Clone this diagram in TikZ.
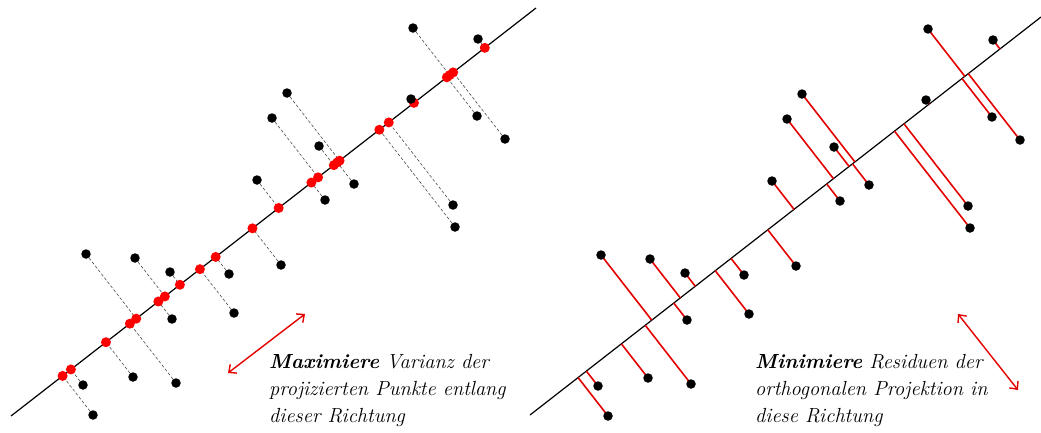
\documentclass[tikz,border=0pt]{standalone}
\usepackage{fontspec}
\usetikzlibrary{calc,arrows.meta}

\tikzset{
    datapt/.style={circle,fill=black,inner sep=0pt,minimum size=9.5pt},
    projpt/.style={circle,fill=red,inner sep=0pt,minimum size=10pt},
    projline/.style={gray!60!black,densely dashed,line width=0.6pt},
    residline/.style={red!90!black,line width=1.6pt},
    dirarrow/.style={red!90!black,line width=1.4pt,{Straight Barb[length=6pt,width=11pt]}-{Straight Barb[length=6pt,width=11pt]}},
    caption/.style={anchor=base west,inner sep=0pt,font=\fontsize{20.4}{27}\selectfont\itshape},
}

% data points (pixel coordinates of the left panel)
\newcommand{\pointlist}{257/180, 413/28, 478/39, 287/93, 411/99, 272/118, 477/116,
    319/146, 505/139, 354/184, 325/200, 453/205, 455/227, 281/265, 86/254, 135/258,
    170/272, 229/274, 234/313, 172/319, 133/377, 176/383, 83/385, 93/415}

\begin{document}
\begin{tikzpicture}[x=1pt,y=-1pt]
    \useasboundingbox (0,0) rectangle (1041,432);

    % Left panel: direction line
    \coordinate (la) at (11,416);
    \coordinate (lb) at (536,8);
    \draw[line width=1.2pt] (la) -- (lb);

    % Left panel: projections onto the line
    \foreach \x/\y [count=\i] in \pointlist {
        \coordinate (lp\i) at (\x,\y);
        \coordinate (lq\i) at ($(la)!(lp\i)!(lb)$);
        \draw[projline] (lp\i) -- (lq\i);
    }
    \foreach \x/\y [count=\i] in \pointlist \node[projpt] (lr\i) at (lq\i) {};
    \foreach \x/\y [count=\i] in \pointlist \node[datapt] (ld\i) at (lp\i) {};

    % Right panel: direction line
    \coordinate (ra) at (530,415);
    \coordinate (rb) at (1041,17);
    \draw[line width=1.2pt] (ra) -- (rb);

    % Right panel: residuals
    \foreach \x/\y [count=\i] in \pointlist {
        \coordinate (rp\i) at (\x+515,\y+1);
        \coordinate (rq\i) at ($(ra)!(rp\i)!(rb)$);
        \draw[residline] (rp\i) -- (rq\i);
    }
    \foreach \x/\y [count=\i] in \pointlist \node[datapt] (rd\i) at (rp\i) {};

    % Direction arrows
    \coordinate (lv1) at (228,373);
    \coordinate (lv2) at (305,314);
    \draw[dirarrow] (lv1) -- (lv2);
    \coordinate (rv1) at (958,314);
    \coordinate (rv2) at (1018,390);
    \draw[dirarrow] (rv1) -- (rv2);

    % Captions
    \node[caption] (lcap1) at (269,368) {\textbf{Maximiere} Varianz der};
    \node[caption] (lcap2) at (269,395) {projizierten Punkte entlang};
    \node[caption] (lcap3) at (269,422) {dieser Richtung};
    \node[caption] (rcap1) at (755,368) {\textbf{Minimiere} Residuen der};
    \node[caption] (rcap2) at (755,395) {orthogonalen Projektion in};
    \node[caption] (rcap3) at (755,422) {diese Richtung};
\end{tikzpicture}
\end{document}
